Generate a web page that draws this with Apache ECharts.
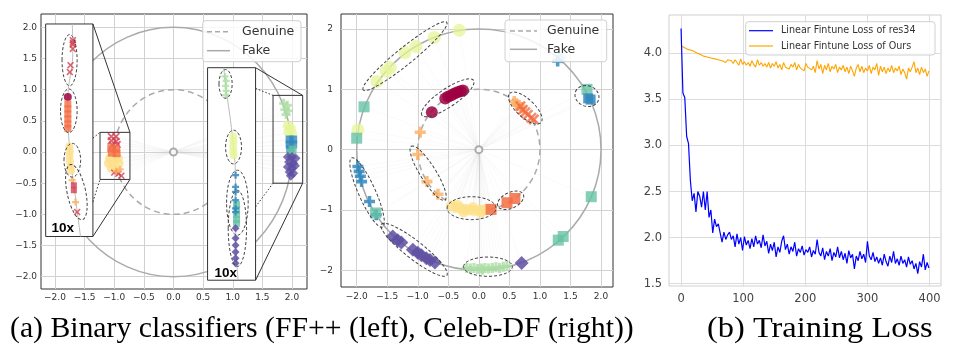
<!DOCTYPE html>
<html><head><meta charset="utf-8">
<script src="https://cdn.jsdelivr.net/npm/echarts@6/dist/echarts.min.js"></script>
<style>html,body{margin:0;padding:0;background:#fff}#c{width:960px;height:355px}</style>
</head><body><div id="c"></div>
<script>
// ---------------- DATA ----------------
// (a-left) FF++ main plot clusters (data coords)
const ffRedX      = [[-1.05,0.25],[-0.97,0.25],[-1.05,0.18],[-0.97,0.17],[-1.03,0.11],[-0.95,0.12]];
const ffOrangeSq  = [[-1.05,0.06],[-0.97,0.05],[-1.04,-0.01],[-0.96,-0.02]];
const ffYellow    = [[-1.08,-0.10],[-1.00,-0.12],[-0.93,-0.10],[-1.10,-0.18],[-1.02,-0.20],[-0.92,-0.18],[-1.05,-0.26],[-0.96,-0.27]];
const ffRedXLow   = [[-0.93,-0.35],[-0.88,-0.38],[-1.00,-0.33]];
const ffLtOrange  = [[-0.97,-0.31],[-0.90,-0.28]];
const ffGreen     = [[1.86,0.78],[1.92,0.75],[1.88,0.68],[1.94,0.66],[1.90,0.60]];
const ffYgreen    = [[1.93,0.42],[1.98,0.38],[1.94,0.32],[2.00,0.30]];
const ffBlueSq    = [[1.96,0.20],[2.02,0.20],[1.96,0.12],[2.02,0.12],[1.97,0.05]];
const ffTealSq    = [[2.01,0.04],[1.98,-0.02]];
const ffPurple    = [[1.93,-0.08],[2.00,-0.08],[2.06,-0.10],[1.95,-0.16],[2.02,-0.18],[1.93,-0.24],[2.00,-0.26],[2.05,-0.22],[1.96,-0.32],[2.02,-0.34],[1.98,-0.38]];
// inset 1 (10x, local offsets x0.01)
const in1RedX     = [[0.6,14.4],[0.6,14.0],[0.6,13.7],[0.6,13.0],[0.21,10.4],[0.09,9.3]];
const in1DarkRed  = [[-0.25,5.3]];
const in1OrangeSq = [[-0.25,4.2],[-0.25,3.4],[-0.25,2.6],[-0.25,1.8],[-0.25,1.0],[-0.25,0.3]];
const in1Yellow   = [[0.0,-2.6],[0.1,-3.4],[0.05,-4.2],[0.1,-5.0],[0.2,-5.8],[0.3,-6.5]];
const in1LtOrange = [[0.48,-8.0],[1.06,-11.5]];
const in1RedSq    = [[0.77,-8.8],[0.77,-9.6]];
const in1RedX2    = [[1.33,-13.1]];
const in1Guide    = [[0.5,17],[0.6,13],[-0.25,4.5],[0.05,-3],[0.8,-9],[1.9,-17]];
const in1Ellipses = [[0.05,11.2,1.28,4.1,0],[-0.08,3.1,1.41,3.5,0],[0.51,-4.8,1.41,2.7,0],[1.2,-9.9,1.57,4.5,12]];
// inset 2
const in2Green    = [[-1.1,15.6],[-0.9,14.9],[-1.0,14.1],[-0.9,13.3],[-0.95,12.6]];
const in2Ygreen   = [[0.27,6.0],[0.3,5.2],[0.27,4.4],[0.3,3.6],[0.35,3.0]];
const in2BluePlus = [[0.67,-0.2],[0.67,-2.07],[0.67,-2.87],[0.67,-4.2],[0.67,-5.5],[0.67,-6.1]];
const in2TealSq   = [[0.83,-4.9],[0.83,-5.7],[0.83,-6.5],[0.83,-7.3],[0.83,-7.9]];
const in2Purple   = [[0.67,-8.7],[0.67,-10.3],[0.67,-11.4],[0.67,-12.5],[0.67,-13.5],[0.67,-14.3]];
const in2Guide    = [[-1.3,17],[-1.0,14.4],[0.3,4.5],[0.67,-2],[0.7,-10],[1.1,-17]];
const in2Ellipses = [[-1.0,14.4,1.1,2.3,0],[0.33,4.3,1.33,2.7,0],[0.97,-4.6,1.8,5.2,0],[0.97,-8.7,1.53,6.1,0]];
// (a-right) Celeb-DF
const cdYgreen    = [[-0.32,1.98],[-0.73,1.86],[-1.03,1.71],[-1.21,1.61],[-1.45,1.36],[-1.52,1.30],[-1.67,1.13],[-1.98,0.33]];
const cdDarkRed   = [[-0.77,0.62],[-0.55,0.85],[-0.50,0.88],[-0.45,0.90],[-0.40,0.93],[-0.35,0.95],[-0.30,0.97],[-0.26,0.98]];
const cdLtOrangeP = [[0.58,0.80],[0.62,0.76],[0.66,0.73],[0.70,0.70],[-0.96,0.29],[-1.00,-0.08],[-0.85,-0.53],[-0.67,-0.74]];
const cdOrangeX   = [[0.68,0.72],[0.72,0.66],[0.76,0.62],[0.80,0.58],[0.86,0.53],[0.90,0.50]];
const cdYellow    = [[-0.45,-0.93],[-0.38,-0.96],[-0.35,-0.92],[-0.30,-0.97],[-0.25,-1.03],[-0.22,-0.99],[-0.15,-1.00],[-0.10,-0.96],[-0.08,-1.01],[0.00,-1.00],[0.03,-1.04],[0.06,-1.01],[0.12,-0.99]];
const cdOrangeSq  = [[0.20,-0.99],[0.46,-0.88],[0.59,-0.81]];
const cdGreen     = [[-0.20,-1.96],[-0.14,-1.97],[-0.08,-1.96],[-0.02,-1.98],[0.04,-1.97],[0.06,-1.99],[0.10,-1.96],[0.16,-1.97],[0.22,-1.96],[0.28,-1.95],[0.34,-1.96],[0.40,-1.94],[0.46,-1.93]];
const cdPurple    = [[-1.41,-1.44],[-1.33,-1.50],[-1.27,-1.54],[-1.08,-1.66],[-1.00,-1.71],[-0.94,-1.75],[-0.86,-1.80],[-0.80,-1.83],[-0.72,-1.87],[0.70,-1.88]];
const cdBluePlus  = [[-1.98,-0.28],[-1.96,-0.36],[-1.94,-0.44],[-1.92,-0.53],[-1.79,-0.86],[-1.68,-1.08],[1.29,1.47]];
const cdPaleBlue  = [[1.30,1.52],[1.35,1.52]];
const cdBlueSq    = [[1.79,0.85],[1.83,0.83]];
const cdTealSq    = [[-1.88,0.71],[-2.00,0.19],[1.77,1.00],[1.84,-0.78],[1.30,-1.50],[1.38,-1.44],[-1.69,-1.05]];
const cdEllipses  = [[-1.21,1.55,0.88,0.14,39],[-0.51,0.86,0.51,0.15,34],[0.76,0.69,0.35,0.15,-43],[-0.83,-0.39,0.52,0.13,-58],[-0.12,-0.97,0.40,0.19,0],[0.52,-0.84,0.23,0.13,25],[0.15,-1.94,0.40,0.16,0],[-1.06,-1.66,0.68,0.15,-38],[-1.83,-0.71,0.62,0.14,-66],[1.77,0.89,0.20,0.17,-20]];
// reference circles: Genuine radius 1, Fake radius 2
const refRadii = [1, 2];
// ticks
const ticksA = [-2,-1.5,-1,-0.5,0,0.5,1,1.5,2];
const ticksCdY = [-2,-1,0,1,2];
const ticksLossX = [0,100,200,300,400];
const ticksLossY = [1.5,2.0,2.5,3.0,3.5,4.0];
// (b) training loss, every 3 epochs (0..399)
const epochStep = 3;
const lossRes34 = [4.27,3.57,3.52,3.10,3.02,2.62,2.40,2.48,2.28,2.50,
 2.45,2.33,2.50,2.30,2.50,2.22,2.30,2.05,2.20,2.12,
 2.15,2.05,1.95,2.06,1.98,2.03,2.06,1.98,2.02,1.90,
 2.04,1.93,2.00,1.86,2.01,1.92,1.97,1.88,1.99,1.90,
 2.02,1.93,1.97,1.89,2.03,1.91,1.96,1.83,1.93,1.86,
 1.95,1.79,1.90,1.84,1.96,2.02,1.87,1.93,1.82,1.90,
 1.85,1.95,1.80,1.88,1.84,1.91,1.81,1.87,1.84,1.90,
 1.79,1.86,1.82,1.98,1.84,1.80,1.89,1.76,1.85,1.80,
 1.88,1.75,1.84,1.79,1.90,1.78,1.85,1.76,1.83,1.72,
 1.86,1.78,1.82,1.66,1.80,1.75,1.85,1.77,1.82,1.73,
 1.96,1.80,1.76,1.84,1.74,1.79,1.72,1.78,1.70,1.82,
 1.74,1.69,1.80,1.73,1.85,1.72,1.77,1.70,1.80,1.72,
 1.76,1.68,1.79,1.71,1.75,1.66,1.72,1.61,1.74,1.68,
 1.82,1.65,1.73,1.67];
const lossOurs = [4.08,4.07,4.06,4.05,4.04,4.03,4.03,4.02,4.01,4.00,
 3.99,4.00,3.97,3.98,3.96,3.97,3.95,3.96,3.94,3.95,
 3.93,3.94,3.92,3.93,3.90,3.93,3.91,3.92,3.89,3.93,
 3.90,3.87,3.94,3.88,3.91,3.87,3.90,3.86,3.92,3.88,
 3.85,3.93,3.87,3.90,3.86,3.89,3.85,3.90,3.84,3.89,
 3.86,3.91,3.84,3.88,3.82,3.90,3.85,3.87,3.83,3.88,
 3.85,3.90,3.82,3.88,3.84,3.86,3.81,3.89,3.85,3.87,
 3.82,3.86,3.79,3.92,3.83,3.88,3.78,3.87,3.82,3.89,
 3.80,3.86,3.83,3.88,3.79,3.85,3.82,3.87,3.80,3.85,
 3.78,3.86,3.81,3.75,3.84,3.88,3.80,3.86,3.79,3.84,
 3.81,3.87,3.78,3.85,3.82,3.89,3.76,3.86,3.80,3.85,
 3.78,3.84,3.80,3.87,3.79,3.84,3.81,3.86,3.77,3.83,
 3.79,3.72,3.84,3.80,3.85,3.91,3.79,3.84,3.77,3.85,
 3.79,3.83,3.75,3.81];

// ---------------- LAYOUT / STYLE ----------------
const C = {darkred:'#9e0142', red:'#d53e4f', orange:'#f46d43', ltorange:'#fdae61', yellow:'#fee08b',
  ygreen:'#e6f598', green:'#abdda4', teal:'#66c2a5', blue:'#3288bd', purple:'#5e4fa2'};
const PLUS = 'path://M3.4,0H6.6V3.4H10V6.6H6.6V10H3.4V6.6H0V3.4H3.4Z';
const XM = 'path://M1.6,0L5,3.4L8.4,0L10,1.6L6.6,5L10,8.4L8.4,10L5,6.6L1.6,10L0,8.4L3.4,5L0,1.6Z';
const L = {
  p1:{left:41,top:14,width:266,height:275,xMin:-2.236,xMax:2.253,yMin:-2.197,yMax:2.213},
  p2:{left:341,top:14,width:272,height:273,xMin:-2.257,xMax:2.196,yMin:-2.277,yMax:2.249},
  p3:{left:669,top:15,width:272,height:271,xMin:-19.4,xMax:418.4,yMin:1.475,yMax:4.416},
  in1:{x0:-2.157,x1:-1.36,y0:-1.355,y1:2.053},
  in2:{x0:0.575,x1:1.385,y0:-2.056,y1:1.352},
  box1:{x0:-1.24,x1:-0.735,y0:-0.44,y1:0.315},
  box2:{x0:1.68,x1:2.18,y0:-0.5,y1:0.908},
  inLocal:{xMin:-4,xMax:4,yMin:-17,yMax:17}
};
function toPx(p,x,y){return [p.left+(x-p.xMin)/(p.xMax-p.xMin)*p.width, p.top+(p.yMax-y)/(p.yMax-p.yMin)*p.height];}
function insetGrid(r){const a=toPx(L.p1,r.x0,r.y1), b=toPx(L.p1,r.x1,r.y0);
  return {left:a[0],top:a[1],width:b[0]-a[0],height:b[1]-a[1],show:true,backgroundColor:'#fff',borderColor:'#333',borderWidth:1,z:5};}
// connector lines (inset corner -> zoom box corner), main data coords; flag 1 = dotted
const connectors = [
  [L.in1.x1,L.in1.y1,L.box1.x1,L.box1.y1,0],[L.in1.x1,L.in1.y0,L.box1.x1,L.box1.y0,0],
  [L.in1.x1,0.223,L.box1.x0,L.box1.y1,1],[L.in1.x1,-0.80,L.box1.x0,L.box1.y0,1],
  [L.in2.x1,L.in2.y1,L.box2.x1,L.box2.y1,0],[L.in2.x1,L.in2.y0,L.box2.x1,L.box2.y0,0],
  [L.in2.x1,1.02,L.box2.x0,L.box2.y1,1],[L.in2.x1,-0.88,L.box2.x0,L.box2.y0,1]
];
const boxes = [[L.box1.x0,L.box1.y0,L.box1.x1,L.box1.y1],[L.box2.x0,L.box2.y0,L.box2.x1,L.box2.y1]];

const FONT = 'DejaVu Sans';
const fmtMinus = d => v => (v<0?'\u2212':'') + Math.abs(v).toFixed(d);
function axis(gi, p, dir, ticks, fmt, o){
  o=o||{};
  const isX = dir==='x';
  return {type:'value', gridIndex:gi, min:isX?p.xMin:p.yMin, max:isX?p.xMax:p.yMax,
    axisLine:{show:false}, axisTick:{show:false, customValues:ticks},
    axisLabel:{customValues:ticks, formatter:fmt, fontSize:o.fs||9, color:o.lc||'#333', margin:o.m||4, fontFamily:FONT, hideOverlap:false, showMinLabel:true, showMaxLabel:true},
    splitLine:{show:true, customValues:ticks, lineStyle:{color:o.sc||'#d2d2d2', width:1}}};
}
function hidden(gi, r, dir){
  const isX = dir==='x';
  return {type:'value', gridIndex:gi, show:false, min:isX?r.xMin:r.yMin, max:isX?r.xMax:r.yMax, splitLine:{show:false}};
}
function sc(ax, data, color, symbol, size, op, z){
  return {type:'scatter', xAxisIndex:ax, yAxisIndex:ax, data:data, symbol:symbol, symbolSize:size,
    itemStyle:{color:color, opacity:op==null?0.8:op}, z:z==null?3:z, silent:true};
}
function ellipseSeries(ax, data, z){
  return {type:'custom', xAxisIndex:ax, yAxisIndex:ax, data:data, z:z, silent:true,
    encode:{x:0,y:1},
    renderItem:function(params, api){
      const c = api.coord([api.value(0), api.value(1)]);
      const s = api.size([api.value(2), api.value(3)]);
      return {type:'ellipse', x:c[0], y:c[1], rotation:api.value(4)*Math.PI/180,
        shape:{cx:0,cy:0,rx:s[0],ry:s[1]}, style:{fill:'none', stroke:'#444', lineWidth:1, lineDash:[3,2]}};
    }};
}
function circleSeries(ax){
  return {type:'custom', xAxisIndex:ax, yAxisIndex:ax, data:refRadii.map(r=>[0,0,r]), z:2, silent:true,
    encode:{x:0,y:1},
    renderItem:function(params, api){
      const c = api.coord([0,0]); const r = api.value(2);
      const s = api.size([r, r]);
      return {type:'ellipse', shape:{cx:c[0],cy:c[1],rx:s[0],ry:s[1]},
        style:{fill:'none', stroke:'#aaa', lineWidth:1.5, lineDash: r===1?[6,4]:null}};
    }};
}
function raySeries(ax, pts){
  return {type:'custom', xAxisIndex:ax, yAxisIndex:ax, data:pts, z:1, silent:true, encode:{x:0,y:1},
    renderItem:function(params, api){
      const a = api.coord([0,0]); const b = api.coord([api.value(0), api.value(1)]);
      return {type:'line', shape:{x1:a[0],y1:a[1],x2:b[0],y2:b[1]}, style:{stroke:'#ccc', lineWidth:0.7, opacity:0.15}};
    }};
}
function originMark(ax){
  return {type:'scatter', xAxisIndex:ax, yAxisIndex:ax, data:[[0,0]], symbol:'emptyCircle', symbolSize:7,
    itemStyle:{color:'#999', borderColor:'#999', borderWidth:1}, z:3, silent:true};
}

const ffAll = [].concat(ffRedX, ffOrangeSq, ffYellow, ffRedXLow, ffGreen, ffYgreen, ffBlueSq, ffPurple);
const cdAll = [].concat(cdYgreen, cdDarkRed, cdLtOrangeP, cdOrangeX, cdYellow, cdOrangeSq, cdGreen, cdPurple, cdBluePlus, cdBlueSq, cdTealSq);

const series = [
  // ---- panel (a) left
  raySeries(0, ffAll), circleSeries(0), originMark(0),
  sc(0, ffYellow, C.yellow, 'circle', 9), sc(0, ffRedX, C.red, XM, 8), sc(0, ffOrangeSq, C.orange, 'rect', 8), sc(0, ffRedXLow, C.red, XM, 7), sc(0, ffLtOrange, C.ltorange, PLUS, 7),
  sc(0, ffGreen, C.green, PLUS, 9), sc(0, ffYgreen, C.ygreen, 'circle', 10), sc(0, ffBlueSq, C.blue, 'rect', 8), sc(0, ffTealSq, C.teal, 'rect', 8), sc(0, ffPurple, C.purple, 'diamond', 10),
  {type:'custom', xAxisIndex:0, yAxisIndex:0, data:boxes, z:9, silent:true, encode:{x:[0,2],y:[1,3]},
    renderItem:function(params, api){
      const a = api.coord([api.value(0), api.value(3)]); const b = api.coord([api.value(2), api.value(1)]);
      return {type:'rect', shape:{x:a[0],y:a[1],width:b[0]-a[0],height:b[1]-a[1]}, style:{fill:'none', stroke:'#333', lineWidth:1}};
    }},
  {type:'custom', xAxisIndex:0, yAxisIndex:0, data:connectors, z:9, silent:true, encode:{x:[0,2],y:[1,3]},
    renderItem:function(params, api){
      const a = api.coord([api.value(0), api.value(1)]); const b = api.coord([api.value(2), api.value(3)]);
      return {type:'line', shape:{x1:a[0],y1:a[1],x2:b[0],y2:b[1]}, style:{stroke:'#333', lineWidth:1, lineDash: api.value(4)?[1.5,2]:null}};
    }},
  // ---- inset 1 (grid 3)
  {type:'line', xAxisIndex:3, yAxisIndex:3, data:in1Guide, symbol:'none', smooth:true, lineStyle:{color:'#bbb', width:1}, z:6, silent:true},
  ellipseSeries(3, in1Ellipses, 8),
  sc(3, in1RedX, C.red, XM, 7, 0.8, 7), sc(3, in1DarkRed, C.darkred, 'circle', 8, 0.85, 7), sc(3, in1OrangeSq, C.orange, 'rect', 7, 0.8, 7),
  sc(3, in1Yellow, C.yellow, 'circle', 8, 0.8, 7), sc(3, in1LtOrange, C.ltorange, PLUS, 7, 0.8, 7), sc(3, in1RedSq, C.red, 'rect', 6, 0.8, 7), sc(3, in1RedX2, C.red, XM, 7, 0.8, 7),
  // ---- inset 2 (grid 4)
  {type:'line', xAxisIndex:4, yAxisIndex:4, data:in2Guide, symbol:'none', smooth:true, lineStyle:{color:'#bbb', width:1}, z:6, silent:true},
  ellipseSeries(4, in2Ellipses, 8),
  sc(4, in2Green, C.green, PLUS, 7, 0.8, 7), sc(4, in2Ygreen, C.ygreen, 'circle', 8, 0.8, 7), sc(4, in2TealSq, C.teal, 'rect', 7, 0.8, 7),
  sc(4, in2BluePlus, C.blue, PLUS, 7, 0.85, 7), sc(4, in2Purple, C.purple, 'diamond', 8, 0.85, 7),
  // ---- panel (a) right
  raySeries(1, cdAll), circleSeries(1), originMark(1),
  sc(1, cdYgreen, C.ygreen, 'circle', 13, 0.75), sc(1, cdDarkRed, C.darkred, 'circle', 12, 0.85), sc(1, cdLtOrangeP, C.ltorange, PLUS, 11, 0.8),
  sc(1, cdOrangeX, C.orange, XM, 11, 0.8), sc(1, cdYellow, C.yellow, 'circle', 11, 0.75), sc(1, cdOrangeSq, C.orange, 'rect', 11, 0.85),
  sc(1, cdGreen, C.green, PLUS, 10, 0.8), sc(1, cdPurple, C.purple, 'diamond', 14, 0.85), sc(1, cdPaleBlue, C.blue, 'circle', 11, 0.3),
  sc(1, cdBluePlus, C.blue, PLUS, 11, 0.85), sc(1, cdTealSq, C.teal, 'rect', 11, 0.8), sc(1, cdBlueSq, C.blue, 'rect', 10, 0.85),
  ellipseSeries(1, cdEllipses, 5),
  // ---- panel (b)
  {type:'line', name:'Linear Fintune Loss of Ours', xAxisIndex:2, yAxisIndex:2, data:lossOurs.map((v,i)=>[i*epochStep,v]), symbol:'none', lineStyle:{color:'#ffa500', width:1.1}, z:3, silent:true},
  {type:'line', name:'Linear Fintune Loss of res34', xAxisIndex:2, yAxisIndex:2, data:lossRes34.map((v,i)=>[i*epochStep,v]), symbol:'none', lineStyle:{color:'#0000ff', width:1.2}, z:4, silent:true}
];

const i1 = insetGrid(L.in1), i2 = insetGrid(L.in2);
function legendBox(x,y,w,h){return {type:'rect', shape:{x:x,y:y,width:w,height:h,r:3}, style:{fill:'rgba(255,255,255,0.85)', stroke:'#d0d0d0', lineWidth:1}, z:20};}
function lg(x1,x2,y,color,dash,w){return {type:'line', shape:{x1:x1,y1:y,x2:x2,y2:y}, style:{stroke:color, lineWidth:w||1.5, lineDash:dash||null}, z:21};}
function tx(x,y,t,size,o){o=o||{};return {type:'text', x:x, y:y, scaleX:o.sx||1, style:{text:t, fontSize:size, fontFamily:o.ff||FONT, fontWeight:o.fw||'normal', fill:o.c||'#333', textVerticalAlign:'middle', textAlign:o.a||'left'}, z:22};}

const graphic = [
  legendBox(202.7,20.7,98.3,41), lg(207,230,31.7,'#aaa',[5,3]), lg(207,230,50.7,'#aaa'),
  tx(242,31.7,'Genuine',12.5), tx(242,50.7,'Fake',12.5),
  legendBox(505,20,101.7,41.7), lg(510,537,31,'#aaa',[5,3]), lg(510,537,49.3,'#aaa'),
  tx(547,31,'Genuine',12.5), tx(547,49.3,'Fake',12.5),
  legendBox(745.7,21.7,189.3,33.3), lg(749,773,30.7,'#0000ff',null,1.2), lg(749,773,46,'#ffa500',null,1.2),
  tx(781,30.7,'Linear Fintune Loss of res34',9.6), tx(781,46,'Linear Fintune Loss of Ours',9.6),
  tx(51.5,228,'10x',13.5,{fw:'bold',c:'#000',ff:'Liberation Sans'}), tx(214.5,273,'10x',13.5,{fw:'bold',c:'#000',ff:'Liberation Sans'}),
  tx(10,329,'(a) Binary classifiers (FF++ (left), Celeb-DF (right))',29,{c:'#000',ff:'Liberation Serif',sx:1.025}),
  tx(707,329,'(b) Training Loss',30,{c:'#000',ff:'Liberation Serif',sx:1.08})
];

const option = {
  animation:false,
  backgroundColor:'#fff',
  grid:[
    {left:L.p1.left, top:L.p1.top, width:L.p1.width, height:L.p1.height, show:true, borderColor:'#333', borderWidth:1},
    {left:L.p2.left, top:L.p2.top, width:L.p2.width, height:L.p2.height, show:true, borderColor:'#333', borderWidth:1},
    {left:L.p3.left, top:L.p3.top, width:L.p3.width, height:L.p3.height, show:true, borderColor:'#cfcfcf', borderWidth:1},
    i1, i2
  ],
  xAxis:[
    axis(0, L.p1, 'x', ticksA, fmtMinus(1)),
    axis(1, L.p2, 'x', ticksA, fmtMinus(1), {m:5}),
    axis(2, L.p3, 'x', ticksLossX, v=>String(v), {fs:11.5, lc:'#444', m:7, sc:'#dcdcdc'}),
    hidden(3, L.inLocal, 'x'), hidden(4, L.inLocal, 'x')
  ],
  yAxis:[
    axis(0, L.p1, 'y', ticksA, fmtMinus(1)),
    axis(1, L.p2, 'y', ticksCdY, fmtMinus(0), {m:8}),
    axis(2, L.p3, 'y', ticksLossY, v=>v.toFixed(1), {fs:11.5, lc:'#444', m:7, sc:'#dcdcdc'}),
    hidden(3, L.inLocal, 'y'), hidden(4, L.inLocal, 'y')
  ],
  series: series,
  graphic: graphic
};
const chart = echarts.init(document.getElementById('c'), null, {renderer:'canvas'});
chart.setOption(option);
</script></body></html>
